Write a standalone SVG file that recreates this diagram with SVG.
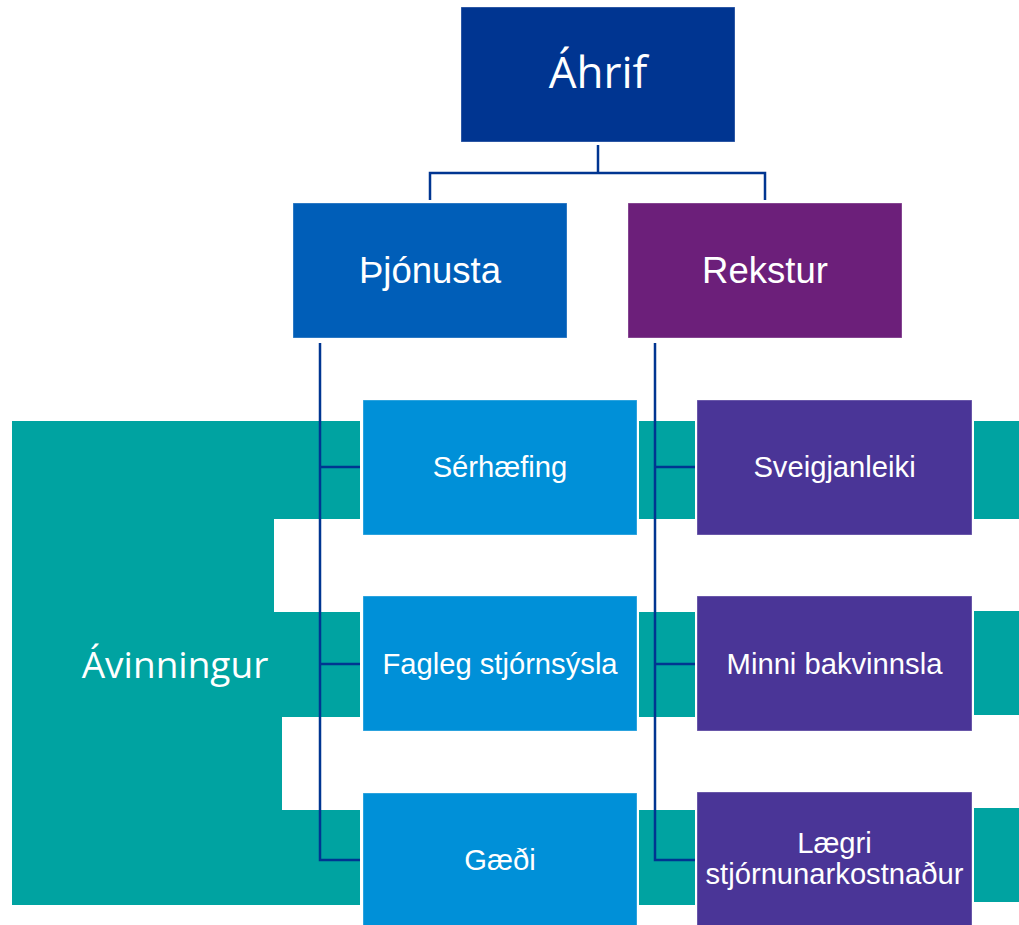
<svg xmlns="http://www.w3.org/2000/svg" width="1019" height="925" viewBox="0 0 1019 925">
<style>
.box{stroke:#ffffff;stroke-opacity:0.35;stroke-width:1}
.t{fill:#ffffff;font-family:"Liberation Sans",Arial,sans-serif;text-anchor:middle}
.m{font-size:29.2px}
.s{font-family:"Open Sans","Noto Sans",sans-serif;fill:#ffffff;text-anchor:middle}
.teal{fill:#00A3A1}
.lb{fill:#0090D8}
.pu{fill:#4A3597}
.conn{fill:none;stroke:#003591;stroke-width:2.5}
</style>
<rect width="1019" height="925" fill="#ffffff"/>
<g id="avinningur">
<polygon class="teal" points="12,421 360,421 360,519 274,519 274,612 360,612 360,717 282,717 282,810 360,810 360,905 12,905"/>
<text class="s" x="175" y="678" font-size="37">Ávinningur</text>
</g>
<g id="tabs">
<rect class="teal" x="639" y="421" width="56" height="98"/>
<rect class="teal" x="639" y="612" width="56" height="105"/>
<rect class="teal" x="639" y="810" width="56" height="95"/>
<rect class="teal" x="974" y="421" width="45" height="98"/>
<rect class="teal" x="974" y="611" width="45" height="104"/>
<rect class="teal" x="974" y="808" width="45" height="94"/>
</g>
<g id="ahrif">
<rect class="box" x="461" y="7" width="274" height="135" fill="#003591"/>
<text class="s" x="598" y="88" font-size="44">Áhrif</text>
</g>
<g id="thjonusta">
<rect class="box" x="293" y="203" width="274" height="135" fill="#005EB8"/>
<text class="t" x="430" y="283" font-size="36.5">Þjónusta</text>
</g>
<g id="rekstur">
<rect class="box" x="628" y="203" width="274" height="135" fill="#6C1F7A"/>
<text class="t" x="765" y="283" font-size="36.5">Rekstur</text>
</g>
<g id="serhaefing">
<rect class="box lb" x="363" y="400" width="274" height="135"/>
<text class="t m" x="500" y="477">Sérhæfing</text>
</g>
<g id="fagleg">
<rect class="box lb" x="363" y="596" width="274" height="135"/>
<text class="t m" x="500" y="674">Fagleg stjórnsýsla</text>
</g>
<g id="gaedi">
<rect class="box lb" x="363" y="793" width="274" height="140"/>
<text class="t m" x="500" y="870">Gæði</text>
</g>
<g id="sveigjanleiki">
<rect class="box pu" x="697" y="400" width="275" height="135"/>
<text class="t m" x="834.5" y="477">Sveigjanleiki</text>
</g>
<g id="minni">
<rect class="box pu" x="697" y="596" width="275" height="135"/>
<text class="t m" x="834.5" y="674">Minni bakvinnsla</text>
</g>
<g id="laegri">
<rect class="box pu" x="697" y="792" width="275" height="140"/>
<text class="t m" x="834.5" y="853">Lægri</text>
<text class="t m" x="834.5" y="884">stjórnunarkostnaður</text>
</g>
<g id="connectors">
<polyline class="conn" points="598,145 598,173"/>
<polyline class="conn" points="430,200 430,173 765,173 765,200"/>
<polyline class="conn" points="320,343 320,860 360,860"/>
<line class="conn" x1="320" y1="467" x2="360" y2="467"/>
<line class="conn" x1="320" y1="664" x2="360" y2="664"/>
<polyline class="conn" points="655,343 655,860 695,860"/>
<line class="conn" x1="655" y1="467" x2="695" y2="467"/>
<line class="conn" x1="655" y1="664" x2="695" y2="664"/>
</g>
</svg>
